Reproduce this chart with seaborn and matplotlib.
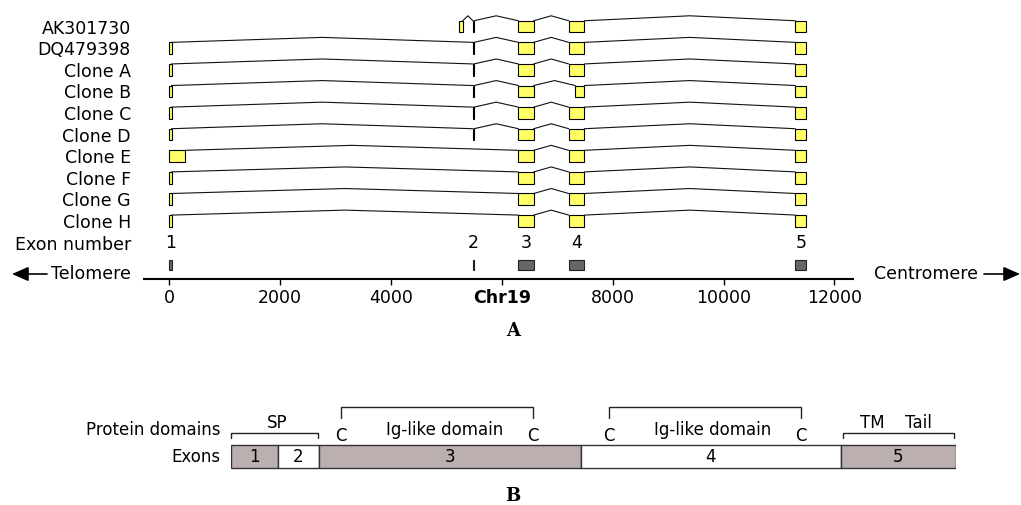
import matplotlib
matplotlib.use("Agg")
import matplotlib.pyplot as plt
import seaborn as sns
import pandas as pd

# ---------------- data: panel A (genomic coordinates, bp) ----------------
transcripts = ["AK301730", "DQ479398", "Clone A", "Clone B", "Clone C",
               "Clone D", "Clone E", "Clone F", "Clone G", "Clone H"]
exon_starts = [
    [5235, 5482, 6300, 7208, 11295],
    [0, 5482, 6300, 7208, 11295],
    [0, 5482, 6300, 7208, 11295],
    [0, 5482, 6300, 7327, 11295],
    [0, 5482, 6300, 7208, 11295],
    [0, 5482, 6300, 7208, 11295],
    [0, 6300, 7208, 11295],
    [0, 6300, 7208, 11295],
    [0, 6300, 7208, 11295],
    [0, 6300, 7208, 11295],
]
exon_ends = [
    [5297, 5500, 6577, 7490, 11493],
    [45, 5500, 6577, 7490, 11493],
    [45, 5500, 6577, 7490, 11480],
    [45, 5500, 6577, 7490, 11493],
    [45, 5500, 6577, 7490, 11493],
    [45, 5500, 6577, 7490, 11493],
    [295, 6577, 7490, 11493],
    [45, 6577, 7490, 11493],
    [45, 6577, 7490, 11493],
    [45, 6577, 7490, 11493],
]
gene_exon_starts = [0, 5482, 6300, 7208, 11295]
gene_exon_ends = [45, 5500, 6577, 7490, 11493]
exon_numbers = ["1", "2", "3", "4", "5"]
x_ticks = [0, 2000, 4000, 6000, 8000, 10000, 12000]
x_tick_labels = ["0", "2000", "4000", "Chr19", "8000", "10000", "12000"]

# ---------------- data: panel B (relative protein positions) ----------------
prot_exon_edges = [0, 47, 88, 350, 610, 725]
prot_exon_labels = ["1", "2", "3", "4", "5"]
prot_exon_colors = ["#bbafaf", "white", "#bbafaf", "white", "#bbafaf"]
dom_starts = [0, 110, 378, 612]
dom_ends = [87, 302, 570, 723]
dom_high = [False, True, True, False]

# ---------------- style ----------------
sns.set_theme(style="white")
plt.rcParams["font.family"] = ["DejaVu Sans"]
plt.rcParams["text.color"] = "black"
plt.rcParams["xtick.color"] = "black"
plt.rcParams["ytick.color"] = "black"
plt.rcParams["axes.labelcolor"] = "black"
YELLOW = "#ffff66"
GREY = "#666666"

W, H = 1021, 505
fig = plt.figure(figsize=(W / 100, H / 100), dpi=100)

# ---------------- panel A ----------------
axA = fig.add_axes([144 / W, (H - 279) / H, (853 - 144) / W, 274 / H])
half = 0.27      # half exon height (rows)
peak = 0.23      # intron apex above exon top (rows)

rows = []
seg = 0
for i, (st, en) in enumerate(zip(exon_starts, exon_ends)):
    top = i - half
    for k in range(len(st) - 1):
        a, b = en[k], st[k + 1]
        for xx, yy in [(a, top), ((a + b) / 2, top - peak), (b, top)]:
            rows.append({"x": xx, "y": yy, "seg": seg})
        seg += 1
introns = pd.DataFrame(rows)
sns.lineplot(data=introns, x="x", y="y", units="seg", estimator=None,
             sort=False, color="#111111", lw=0.8, ax=axA, legend=False)

for i, (st, en) in enumerate(zip(exon_starts, exon_ends)):
    widths = [e - s for s, e in zip(st, en)]
    axA.barh([i] * len(st), widths, left=st, height=2 * half,
             color=YELLOW, edgecolor="black", linewidth=0.8, zorder=3)

gene_row = 11.05
num_row = 10.02
gw = [e - s for s, e in zip(gene_exon_starts, gene_exon_ends)]
axA.barh([gene_row] * len(gw), gw, left=gene_exon_starts, height=0.49,
         color=GREY, edgecolor="#222222", linewidth=0.8, zorder=3)
for s, e, lab in zip(gene_exon_starts, gene_exon_ends, exon_numbers):
    axA.text((s + e) / 2, num_row, lab, ha="center", va="center", fontsize=12.5)

axA.set_xlim(-451, 12335)
axA.set_ylim(11.69, -1.0)
axA.set_xlabel("")
axA.set_ylabel("")
axA.set_yticks(list(range(len(transcripts))) + [num_row])
axA.set_yticklabels(transcripts + ["Exon number"], fontsize=12.5)
axA.tick_params(axis="y", length=0, pad=9.5)
axA.set_xticks(x_ticks)
axA.set_xticklabels(x_tick_labels, fontsize=12.5)
for lbl in axA.get_xticklabels():
    if lbl.get_text() == "Chr19":
        lbl.set_fontweight("bold")
axA.tick_params(axis="x", direction="out", length=4.5, width=1.0,
                color="black", pad=3, bottom=True)
for side in ["left", "top", "right"]:
    axA.spines[side].set_visible(False)
axA.spines["bottom"].set_color("black")
axA.spines["bottom"].set_linewidth(1.5)
axA.set_facecolor("none")

# telomere / centromere arrows
fig.text(131 / W, (H - 274) / H, "Telomere", ha="right", va="center", fontsize=12.5)
fig.text(874 / W, (H - 274) / H, "Centromere", ha="left", va="center", fontsize=12.5)
arrow_style = "-|>,head_length=0.5,head_width=0.22"
axA.annotate("", xy=(12, H - 274), xytext=(47, H - 274), xycoords="figure pixels",
             textcoords="figure pixels",
             arrowprops=dict(arrowstyle=arrow_style, color="black", lw=1.2,
                             mutation_scale=20, shrinkA=0, shrinkB=0))
axA.annotate("", xy=(1020, H - 274), xytext=(984, H - 274), xycoords="figure pixels",
             textcoords="figure pixels",
             arrowprops=dict(arrowstyle=arrow_style, color="black", lw=1.2,
                             mutation_scale=20, shrinkA=0, shrinkB=0))

fig.text(513 / W, (H - 331) / H, "A", ha="center", va="center", fontsize=13,
         fontweight="bold", family="DejaVu Serif")

# ---------------- panel B ----------------
axB = fig.add_axes([231 / W, (H - 475) / H, 725 / W, 80 / H])
axB.set_xlim(0, 725)
axB.set_ylim(80, 0)
axB.axis("off")
box_c, box_h = 61.5, 23
widthsB = [b - a for a, b in zip(prot_exon_edges[:-1], prot_exon_edges[1:])]
axB.barh([box_c] * len(widthsB), widthsB, left=prot_exon_edges[:-1], height=box_h,
         color=prot_exon_colors, edgecolor="#333333", linewidth=1.0)
for a, b, lab in zip(prot_exon_edges[:-1], prot_exon_edges[1:], prot_exon_labels):
    axB.text((a + b) / 2, box_c, lab, ha="center", va="center", fontsize=12)

for a, b, hi in zip(dom_starts, dom_ends, dom_high):
    if hi:
        axB.plot([a, a, b, b], [23, 12, 12, 23], color="#222222", lw=1.0,
                 clip_on=False, solid_joinstyle="miter")
        axB.text(a, 41, "C", ha="center", va="center", fontsize=12)
        axB.text(b, 41, "C", ha="center", va="center", fontsize=12)
        axB.text((a + b) / 2 + 8, 35, "Ig-like domain", ha="center", va="center", fontsize=12)
    else:
        axB.plot([a, a, b, b], [43, 38, 38, 43], color="#222222", lw=1.0,
                 clip_on=False, solid_joinstyle="miter")

axB.text((dom_starts[0] + dom_ends[0]) / 2 + 3, 28, "SP", ha="center", va="center", fontsize=12)
axB.text(641, 28, "TM", ha="center", va="center", fontsize=12)
axB.text(687, 28, "Tail", ha="center", va="center", fontsize=12)
axB.text(-11, 35, "Protein domains", ha="right", va="center", fontsize=12)
axB.text(-11, 62, "Exons", ha="right", va="center", fontsize=12)

fig.text(513 / W, (H - 496) / H, "B", ha="center", va="center", fontsize=13,
         fontweight="bold", family="DejaVu Serif")

fig.savefig("out.png", dpi=100)
